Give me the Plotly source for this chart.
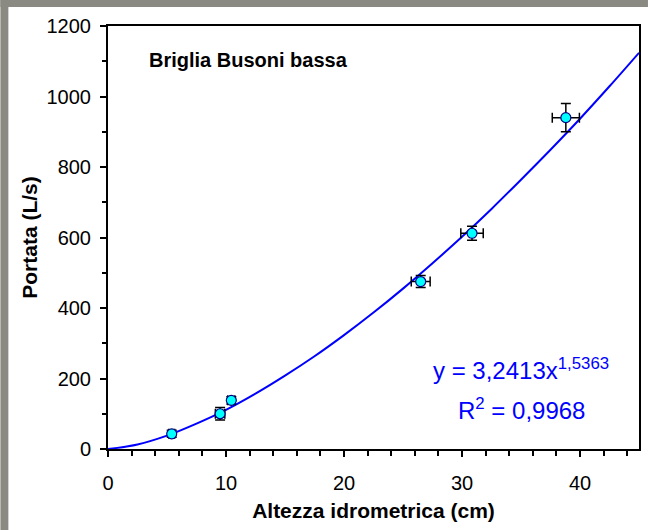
import plotly.graph_objects as go

# Measured points (altezza idrometrica cm, portata L/s) with error bars
altezza = [5.4, 9.5, 10.45, 26.5, 30.85, 38.8]
portata = [43, 100, 138, 475, 612, 940]
err_altezza = [0.25, 0.4, 0.3, 0.8, 0.95, 1.15]
err_portata = [10, 18, 10, 17, 20, 40]

# Fitted curve
curve_x = [0, 2.5, 5, 7.5, 10, 12.5, 15, 17.5, 20, 22.5, 25, 27.5, 30,
           32.5, 35, 37.5, 40, 42.5, 45]
curve_y = [0, 13, 38, 72, 111, 157, 208, 263, 323, 387, 455, 527, 602,
           681, 764, 849, 937, 1029, 1124]

x_ticks = [0, 10, 20, 30, 40]
y_ticks = [0, 200, 400, 600, 800, 1000, 1200]

FONT = "Liberation Sans, Arial, sans-serif"
BLUE = "#0000FF"

fig = go.Figure()
fig.add_trace(go.Scatter(
    x=curve_x, y=curve_y, mode="lines",
    line=dict(color=BLUE, width=2, shape="spline"),
    hoverinfo="skip", showlegend=False))
fig.add_trace(go.Scatter(
    x=altezza, y=portata, mode="markers",
    marker=dict(color="#00FFFF", size=10, line=dict(color="#000080", width=1.2)),
    error_x=dict(type="data", array=err_altezza, color="black", thickness=1.5, width=5),
    error_y=dict(type="data", array=err_portata, color="black", thickness=1.5, width=5),
    showlegend=False))

L, R, T, B = 108, 9, 26, 81
W, H = 650, 530
pw, ph = W - L - R, H - T - B

def px(xp):
    return (xp - L) / pw

def py(yp):
    return (H - B - yp) / ph

gray = "#8a8a82"
fig.add_shape(type="rect", xref="paper", yref="paper",
              x0=px(0), x1=px(W), y0=py(0), y1=py(7),
              fillcolor=gray, line_width=0, layer="above")
fig.add_shape(type="rect", xref="paper", yref="paper",
              x0=px(0), x1=px(8), y0=py(0), y1=py(H),
              fillcolor=gray, line_width=0, layer="above")

fig.add_annotation(text="<b>Briglia Busoni bassa</b>", xref="paper", yref="paper",
                   x=px(147), y=py(60), xanchor="left", yanchor="middle",
                   showarrow=False, font=dict(family=FONT, size=20, color="black"))
fig.add_annotation(text="y = 3,2413x<sup>1,5363</sup>", xref="paper", yref="paper",
                   x=px(523), y=py(369), xanchor="center", yanchor="middle",
                   showarrow=False, font=dict(family=FONT, size=24, color=BLUE))
fig.add_annotation(text="R<sup>2</sup> = 0,9968", xref="paper", yref="paper",
                   x=px(523), y=py(409), xanchor="center", yanchor="middle",
                   showarrow=False, font=dict(family=FONT, size=24, color=BLUE))

axis_common = dict(showline=True, linecolor="black", linewidth=2, mirror=True,
                   ticks="outside", ticklen=6, tickwidth=1.5, tickcolor="black",
                   showgrid=False, zeroline=False,
                   tickfont=dict(family=FONT, size=20, color="black"))

fig.update_xaxes(range=[0, 45], tickvals=x_ticks,
                 minor=dict(dtick=2, ticklen=5, tickwidth=1.5, tickcolor="black", ticks="outside"),
                 title=dict(text="<b>Altezza idrometrica (cm)</b>", standoff=10,
                            font=dict(family=FONT, size=21, color="black")),
                 ticklabelstandoff=9, **axis_common)
fig.update_yaxes(range=[0, 1200], tickvals=y_ticks,
                 minor=dict(dtick=100, ticklen=4, tickwidth=1.5, tickcolor="black", ticks="outside"),
                 title=dict(text="<b>Portata (L/s)</b>", standoff=3,
                            font=dict(family=FONT, size=21, color="black")),
                 ticklabelstandoff=5, **axis_common)

fig.update_layout(width=W, height=H, margin=dict(l=L, r=R, t=T, b=B),
                  paper_bgcolor="white", plot_bgcolor="white",
                  font=dict(family=FONT))

fig.write_html("out.html")
